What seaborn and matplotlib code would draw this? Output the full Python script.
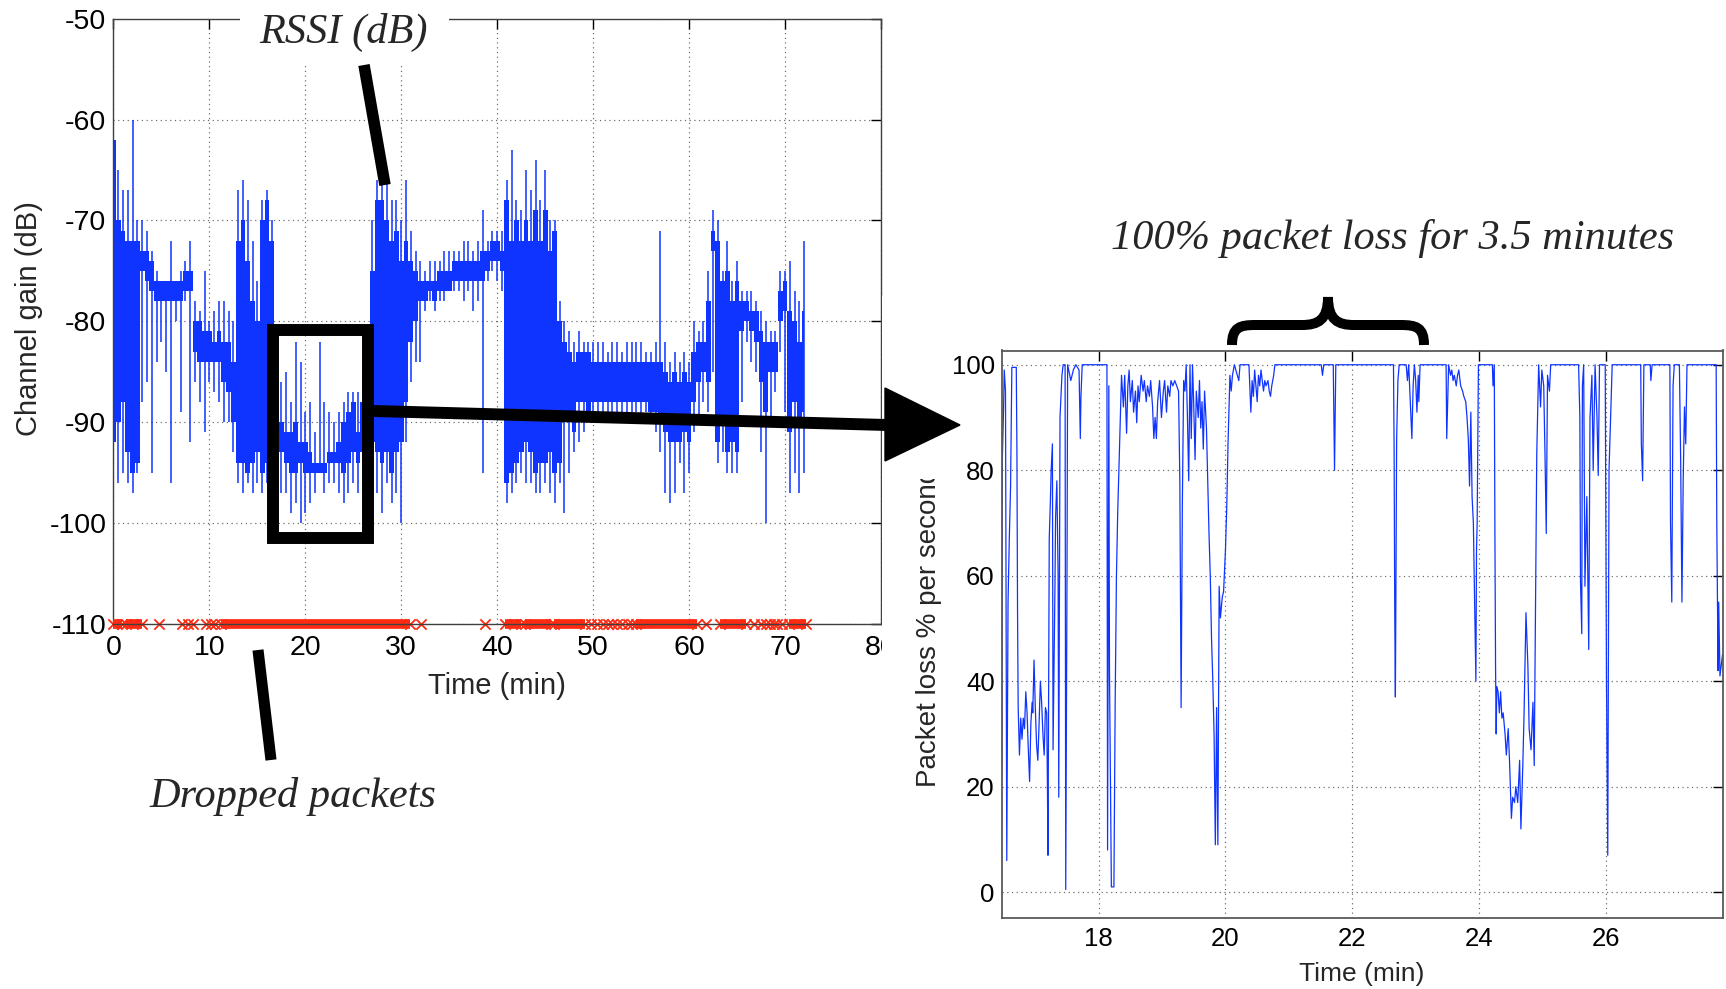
import numpy as np
import pandas as pd
import matplotlib
matplotlib.use("Agg")
import matplotlib.pyplot as plt
import seaborn as sns
from matplotlib.patches import Rectangle, Polygon, PathPatch
from matplotlib.path import Path
from matplotlib.lines import Line2D
from matplotlib.transforms import Bbox, TransformedBbox

sns.set_theme(style="white")
plt.rcParams["font.family"] = ["Liberation Sans", "DejaVu Sans"]
plt.rcParams["axes.unicode_minus"] = False

# ---------------- RSSI trace (0.5 min bins from t = 0) ----------------
RSSI_STEP = 0.5
rssi_core_hi = [
    -62, -70, -71, -72, -72, -72, -73, -73, -74, -76,
    -76, -76, -76, -76, -76, -75, -75, -80, -80, -81,
    -81, -82, -81, -82, -82, -84, -72, -70, -74, -78,
    -80, -70, -68, -72, -89, -90, -91, -91, -90, -92,
    -92, -93, -94, -94, -94, -93, -93, -92, -90, -89,
    -88, -91, -88, -85, -75, -68, -68, -70, -72, -71,
    -74, -72, -74, -75, -76, -76, -76, -76, -75, -75,
    -75, -74, -74, -74, -74, -74, -74, -73, -73, -72,
    -72, -73, -68, -72, -70, -72, -70, -72, -69, -72,
    -69, -73, -71, -80, -82, -83, -84, -83, -83, -83,
    -84, -84, -84, -84, -84, -84, -84, -84, -84, -84,
    -84, -84, -84, -84, -84, -85, -86, -85, -86, -85,
    -86, -83, -82, -82, -78, -71, -72, -76, -75, -78,
    -76, -78, -78, -79, -79, -81, -82, -82, -82, -77,
    -76, -79, -80, -82, -79,
]
rssi_core_lo = [
    -92, -90, -88, -93, -95, -94, -75, -76, -77, -78,
    -78, -78, -78, -78, -78, -77, -77, -83, -84, -84,
    -84, -84, -84, -86, -87, -90, -94, -94, -95, -94,
    -93, -95, -94, -92, -91, -93, -94, -95, -95, -94,
    -95, -95, -95, -95, -95, -94, -94, -94, -95, -94,
    -93, -94, -93, -92, -92, -93, -94, -93, -95, -93,
    -92, -88, -82, -80, -78, -78, -77, -78, -77, -77,
    -77, -76, -76, -76, -76, -76, -76, -76, -75, -74,
    -74, -75, -96, -95, -94, -93, -92, -93, -95, -94,
    -94, -93, -95, -94, -90, -90, -91, -88, -88, -89,
    -88, -88, -88, -88, -88, -88, -88, -88, -88, -88,
    -88, -88, -89, -89, -90, -91, -92, -92, -92, -91,
    -92, -88, -86, -85, -86, -73, -92, -90, -93, -92,
    -93, -81, -80, -81, -82, -86, -89, -85, -85, -80,
    -79, -91, -88, -90, -89,
]
rssi_spike_hi = [
    -55, -65, -67, -67, -60, -70, -70, -71, -73, -75,
    -76, -76, -72, -76, -75, -74, -72, -78, -79, -75,
    -80, -79, -78, -78, -79, -80, -67, -66, -68, -72,
    -76, -68, -67, -70, -85, -86, -85, -88, -82, -84,
    -89, -88, -91, -82, -88, -89, -90, -89, -88, -87,
    -87, -87, -85, -82, -70, -66, -65, -66, -68, -68,
    -70, -66, -71, -73, -74, -75, -74, -74, -74, -73,
    -73, -73, -73, -72, -72, -73, -72, -69, -72, -71,
    -71, -71, -66, -63, -68, -69, -65, -67, -64, -68,
    -65, -70, -70, -78, -80, -81, -82, -81, -82, -82,
    -82, -82, -82, -83, -82, -82, -83, -82, -82, -82,
    -82, -83, -83, -82, -71, -82, -84, -83, -84, -83,
    -84, -80, -81, -80, -75, -69, -70, -75, -72, -76,
    -74, -77, -77, -77, -78, -79, -80, -81, -81, -75,
    -75, -74, -77, -78, -72,
]
rssi_spike_lo = [
    -97, -96, -95, -96, -97, -95, -88, -86, -95, -84,
    -82, -85, -96, -80, -89, -78, -92, -86, -88, -91,
    -86, -87, -88, -90, -90, -93, -96, -97, -96, -97,
    -96, -97, -96, -95, -95, -97, -97, -99, -98, -100,
    -99, -98, -97, -95, -97, -96, -96, -97, -98, -97,
    -96, -97, -96, -95, -96, -97, -99, -96, -98, -97,
    -100, -92, -86, -84, -84, -79, -78, -79, -78, -78,
    -77, -77, -77, -78, -77, -79, -78, -95, -76, -75,
    -76, -77, -98, -97, -96, -95, -96, -96, -97, -97,
    -96, -97, -98, -96, -99, -95, -93, -92, -91, -90,
    -89, -90, -89, -89, -89, -89, -89, -89, -89, -89,
    -90, -89, -90, -91, -93, -97, -98, -97, -94, -97,
    -95, -91, -90, -88, -89, -85, -94, -93, -95, -95,
    -95, -88, -82, -84, -85, -93, -100, -90, -87, -83,
    -89, -97, -95, -97, -95,
]

# ---------------- dropped packets (min) ----------------
DROP_LEVEL = -110
drop_runs = [(0.0, 0.9), (1.3, 3.0), (11.2, 30.9), (40.8, 42.5), (42.9, 45.6),
             (45.9, 49.2), (54.5, 60.8), (63.2, 65.9), (70.4, 72.2)]
drop_singles = [4.8, 7.1, 7.8, 8.3, 9.7, 10.2, 10.6, 32.1, 38.7, 49.8, 50.4,
                51.0, 51.5, 52.0, 52.5, 53.0, 53.6, 54.0, 61.8, 66.8, 67.5,
                68.0, 68.4, 68.8, 69.2, 69.7]

# ---------------- packet loss per second (zoomed window) ----------------
loss_t = [
    16.47, 16.48, 16.50, 16.51, 16.53, 16.55, 16.57, 16.59, 16.61, 16.63,
    16.70, 16.71, 16.72, 16.73, 16.75, 16.77, 16.79, 16.81, 16.83, 16.85,
    16.87, 16.89, 16.91, 16.93, 16.95, 16.96, 16.98, 17.00, 17.02, 17.04,
    17.06, 17.08, 17.10, 17.12, 17.14, 17.16, 17.18, 17.19, 17.20, 17.22,
    17.24, 17.25, 17.27, 17.28, 17.31, 17.32, 17.34, 17.36, 17.37, 17.39,
    17.42, 17.44, 17.47, 17.48, 17.50, 17.51, 17.56, 17.60, 17.64, 17.69,
    17.71, 17.72, 17.74, 18.13, 18.14, 18.16, 18.17, 18.20, 18.24, 18.26,
    18.28, 18.30, 18.33, 18.36, 18.39, 18.41, 18.44, 18.46, 18.48, 18.50,
    18.53, 18.55, 18.58, 18.60, 18.62, 18.64, 18.67, 18.70, 18.72, 18.75,
    18.77, 18.80, 18.82, 18.85, 18.87, 18.89, 18.91, 18.93, 18.96, 18.99,
    19.02, 19.04, 19.07, 19.09, 19.12, 19.14, 19.17, 19.20, 19.23, 19.26,
    19.28, 19.30, 19.32, 19.34, 19.36, 19.38, 19.40, 19.42, 19.44, 19.46,
    19.48, 19.50, 19.52, 19.54, 19.57, 19.59, 19.61, 19.63, 19.65, 19.67,
    19.70, 19.72, 19.74, 19.76, 19.78, 19.80, 19.82, 19.84, 19.86, 19.88,
    19.90, 19.92, 19.95, 19.97, 20.00, 20.02, 20.04, 20.07, 20.09, 20.11,
    20.14, 20.21, 20.23, 20.37, 20.40, 20.42, 20.44, 20.46, 20.48, 20.50,
    20.52, 20.54, 20.56, 20.58, 20.60, 20.62, 20.64, 20.67, 20.69, 20.71,
    20.73, 20.76, 20.78, 21.51, 21.53, 21.55, 21.70, 21.72, 21.74, 22.65,
    22.66, 22.67, 22.68, 22.69, 22.70, 22.72, 22.74, 22.85, 22.87, 22.89,
    22.93, 22.94, 22.96, 22.98, 23.00, 23.02, 23.04, 23.05, 23.07, 23.48,
    23.49, 23.51, 23.52, 23.55, 23.57, 23.59, 23.61, 23.64, 23.66, 23.68,
    23.71, 23.74, 23.76, 23.79, 23.81, 23.83, 23.85, 23.87, 23.89, 23.91,
    23.93, 23.95, 23.96, 23.97, 23.99, 24.21, 24.22, 24.24, 24.25, 24.26,
    24.27, 24.28, 24.30, 24.32, 24.34, 24.36, 24.38, 24.41, 24.43, 24.46,
    24.48, 24.51, 24.53, 24.56, 24.58, 24.61, 24.64, 24.66, 24.69, 24.71,
    24.74, 24.77, 24.79, 24.82, 24.85, 24.87, 24.89, 24.91, 24.94, 24.97,
    24.99, 25.02, 25.04, 25.06, 25.08, 25.11, 25.13, 25.57, 25.59, 25.60,
    25.62, 25.63, 25.65, 25.67, 25.70, 25.72, 25.73, 25.75, 25.78, 25.80,
    25.83, 25.86, 25.88, 25.90, 25.99, 26.01, 26.03, 26.05, 26.08, 26.10,
    26.55, 26.56, 26.58, 26.60, 26.70, 26.71, 26.73, 27.01, 27.02, 27.04,
    27.06, 27.08, 27.16, 27.18, 27.20, 27.22, 27.24, 27.26, 27.28, 27.74,
    27.75, 27.77, 27.78, 27.80, 27.84,
]
loss_pct = [
    24, 82, 92, 99, 95, 6, 55, 67, 77, 99.5,
    99.5, 84, 53, 35, 26, 33, 29, 33, 31, 38,
    34, 27, 21, 32, 36, 34, 44, 35, 28, 25,
    32, 40, 36, 30, 26, 35, 34, 22, 7, 67,
    75, 80, 85, 27, 58, 71, 78, 60, 18, 90,
    98, 100, 100, 0.5, 60, 100, 97, 99, 100, 99,
    86, 94, 100, 100, 8, 96, 42, 1, 1, 36,
    60, 72, 85, 98, 92, 98, 87, 96, 99, 93,
    97, 91, 95, 89, 96, 93, 98, 95, 97, 93,
    96, 94, 97, 92, 86, 90, 86, 93, 97, 90,
    95, 97, 91, 96, 94, 97, 96, 97, 96, 95,
    78, 35, 74, 97, 95, 100, 90, 78, 100, 86,
    100, 92, 82, 95, 90, 97, 88, 93, 84, 95,
    88, 78, 68, 60, 48, 40, 30, 9, 35, 9,
    58, 52, 56, 57, 65, 73, 85, 98, 95, 98,
    100, 97, 100, 100, 91, 97, 94, 99, 96, 93,
    98, 96, 99, 97, 95, 97, 96, 97, 95, 94,
    96, 98, 100, 100, 98, 100, 100, 80, 100, 100,
    84, 53, 37, 60, 86, 97, 100, 100, 97, 100,
    89, 86, 96, 100, 97, 91, 98, 93, 100, 100,
    86, 95, 100, 98, 99, 97, 98, 96, 98, 99,
    96, 95, 94, 93, 90, 86, 77, 91, 75, 70,
    55, 40, 65, 70, 100, 100, 96, 100, 68, 43,
    30, 39, 38, 34, 38, 33, 34, 30, 26, 31,
    25, 14, 18, 17, 20, 17, 25, 12, 24, 34,
    53, 43, 31, 27, 36, 24, 53, 83, 100, 92,
    99, 96, 83, 68, 98, 95, 100, 100, 90, 59,
    49, 96, 100, 58, 75, 56, 46, 90, 98, 80,
    100, 90, 79, 100, 100, 40, 7, 80, 92, 100,
    100, 85, 78, 100, 100, 97, 100, 100, 70, 55,
    96, 100, 100, 82, 55, 78, 92, 85, 100, 100,
    70, 42, 55, 41, 45,
]

# zoomed interval marked on the RSSI panel (min, dB)
zoom_box = (16.6, 26.5, -101.5, -80.9)

# ---------------- figure ----------------
W, H = 1726, 989
fig = plt.figure(figsize=(W / 100, H / 100), dpi=100)
fig.patch.set_facecolor("white")


def fx(x):
    return x / W


def fy(y):
    return 1 - y / H


BLUE = "#1034ff"
RED = "#ff2a12"
GRID = dict(color="0.4", linestyle=(0, (1, 3)), linewidth=0.85)
SERIF = dict(family=["Liberation Serif", "DejaVu Serif"], style="italic")

# ---- left: channel gain over the whole run ----
ax1 = fig.add_axes([fx(113.4), fy(624.0), (881.0 - 113.4) / W, (624.0 - 18.7) / H], zorder=0)
rssi_t = np.arange(len(rssi_core_hi)) * RSSI_STEP
ax1.fill_between(rssi_t, rssi_core_lo, rssi_core_hi, step="mid", color=BLUE, lw=0, zorder=2)
ax1.vlines(rssi_t, rssi_spike_lo, rssi_spike_hi, color=BLUE, lw=1.1, zorder=2)

for s, e in drop_runs:
    ax1.plot([s, e], [DROP_LEVEL, DROP_LEVEL], color=RED, lw=7,
             solid_capstyle="butt", clip_on=False, zorder=3)
drop_pts = pd.DataFrame({
    "t": drop_singles + [v for run in drop_runs for v in run],
})
drop_pts["rssi"] = DROP_LEVEL
sns.scatterplot(data=drop_pts, x="t", y="rssi", marker="x", color=RED, s=55,
                linewidth=1.3, ax=ax1, clip_on=False, zorder=3, legend=False)

ax1.set_xlim(0, 80)
ax1.set_ylim(-110, -50)
ax1.set_xticks(range(0, 81, 10))
ax1.set_yticks(range(-110, -49, 10))
ax1.grid(True, **GRID)
ax1.set_axisbelow(True)
ax1.tick_params(axis="both", direction="in", length=7, width=1, top=True, right=True,
                labelsize=20.5, colors="black")
ax1.tick_params(axis="x", pad=8)
ax1.tick_params(axis="y", pad=5)
for sp in ax1.spines.values():
    sp.set_color("0.25")
    sp.set_linewidth(1.0)
ax1.spines["bottom"].set_zorder(4)
ax1.set_xlabel("Time (min)", fontsize=21)
ax1.xaxis.set_label_coords(0.5, -0.08)
ax1.set_ylabel("Channel gain (dB)", fontsize=21)
ax1.yaxis.set_label_coords(-0.092, 0.504)

x0, x1, y0, y1 = zoom_box
ax1.add_patch(Rectangle((x0, y0), x1 - x0, y1 - y0, fill=False, ec="black", lw=8.6,
                        joinstyle="miter", clip_on=False, zorder=6))

# ---- right: packet loss in the zoomed interval ----
ax2 = fig.add_axes([fx(1001.7), fy(917.5), (1722.5 - 1001.7) / W, (917.5 - 350.5) / H], zorder=2)
sns.lineplot(x=loss_t, y=loss_pct, ax=ax2, color=BLUE, lw=0.9, estimator=None, sort=False)
ax2.set_xlim(16.47, 27.84)
ax2.set_ylim(-4.8, 102.7)
ax2.set_xticks(range(18, 27, 2))
ax2.set_yticks(range(0, 101, 20))
ax2.grid(True, **GRID)
ax2.set_axisbelow(True)
ax2.tick_params(axis="both", direction="in", length=7, width=1, top=True, right=True,
                labelsize=18.5, colors="black")
ax2.tick_params(axis="x", pad=7)
ax2.tick_params(axis="y", pad=5)
for sp in ax2.spines.values():
    sp.set_color("0.35")
    sp.set_linewidth(1.3)
ax2.set_xlabel("Time (min)", fontsize=19)
ax2.xaxis.set_label_coords(0.5, -0.078)
ax2.set_ylabel("")

# white panel behind the right chart
fig.add_artist(Rectangle((fx(882.4), 0), fx(1000) - fx(882.4), fy(296), transform=fig.transFigure,
                         facecolor="white", edgecolor="none", zorder=1))
# white tab behind the RSSI label
fig.add_artist(Rectangle((fx(240), fy(65)), fx(449) - fx(240), fy(0) - fy(65), transform=fig.transFigure,
                         facecolor="white", edgecolor="none", zorder=1))

ylab = fig.text(fx(942), fy(787), "Packet loss % per second", rotation=90, rotation_mode="anchor",
                ha="left", va="bottom", fontsize=20, zorder=3)
ylab.set_clip_box(TransformedBbox(Bbox([[0, 0], [1, fy(479)]]), fig.transFigure))
ylab.set_clip_on(True)

# ---- callouts ----
def seg(p, q, lw):
    fig.add_artist(Line2D([fx(p[0]), fx(q[0])], [fy(p[1]), fy(q[1])], lw=lw, color="black",
                          solid_capstyle="butt", transform=fig.transFigure, zorder=6))


seg((364, 65), (385, 185), 8.3)      # to the RSSI trace
seg((258, 650), (271, 760), 8.0)     # to the dropped packets
seg((374, 411), (887, 425), 8.6)     # box -> zoomed panel
fig.add_artist(Polygon([(fx(885), fy(388)), (fx(960), fy(425)), (fx(885), fy(461))], closed=True,
                       facecolor="black", edgecolor="black", transform=fig.transFigure, zorder=6))

brace_px = [(1232, 345), (1232, 327), (1240, 325), (1256, 325), (1302, 325),
            (1318, 325), (1328, 320), (1328, 297), (1328, 320), (1338, 325), (1354, 325),
            (1400, 325), (1416, 325), (1424, 327), (1424, 345)]
brace_codes = [Path.MOVETO, Path.CURVE4, Path.CURVE4, Path.CURVE4, Path.LINETO,
               Path.CURVE4, Path.CURVE4, Path.CURVE4, Path.CURVE4, Path.CURVE4, Path.CURVE4,
               Path.LINETO, Path.CURVE4, Path.CURVE4, Path.CURVE4]
fig.add_artist(PathPatch(Path([(fx(x), fy(y)) for x, y in brace_px], brace_codes), fill=False,
                         lw=7.2, ec="black", capstyle="butt", transform=fig.transFigure, zorder=6))

fig.text(fx(343.5), fy(32), "RSSI (dB)", ha="center", va="center", fontsize=30.5, zorder=6, **SERIF)
fig.text(fx(293), fy(797), "Dropped packets", ha="center", va="center", fontsize=30.5, zorder=6, **SERIF)
fig.text(fx(1392.5), fy(238), "100% packet loss for 3.5 minutes", ha="center", va="center",
         fontsize=30.5, zorder=6, **SERIF)

fig.savefig("out.png", dpi=100, facecolor="white")
